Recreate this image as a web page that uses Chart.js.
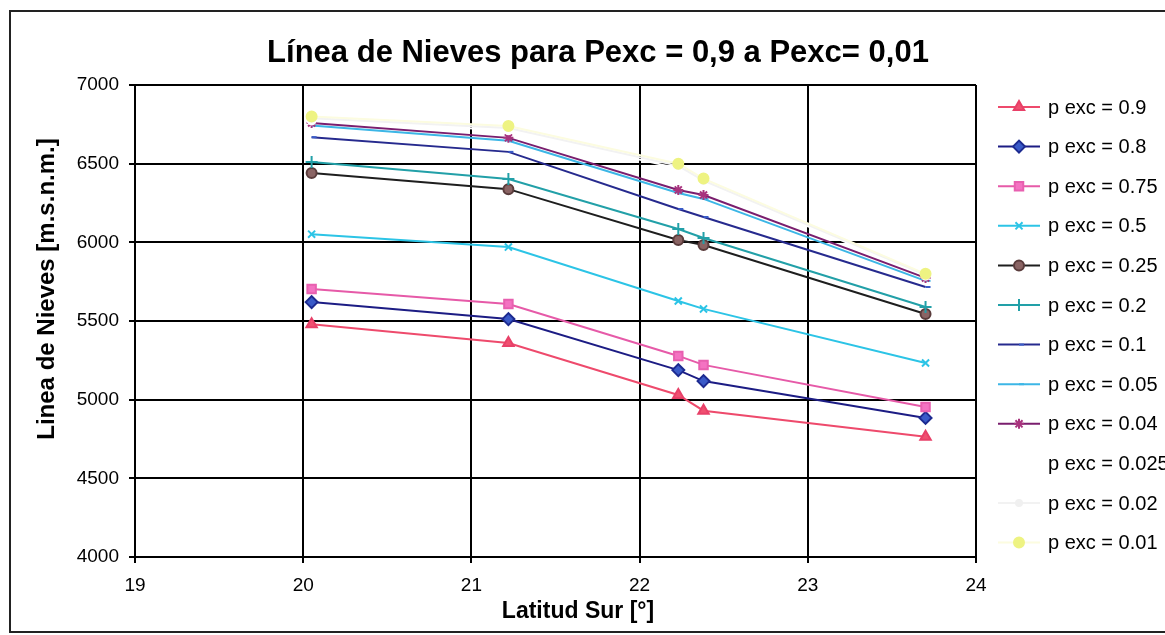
<!DOCTYPE html>
<html>
<head>
<meta charset="utf-8">
<script src="https://cdn.jsdelivr.net/npm/chart.js@4/dist/chart.umd.min.js"></script>
<style>
  html, body { margin: 0; padding: 0; background: #ffffff; }
  #wrap { width: 1165px; height: 635px; position: relative; }
</style>
</head>
<body>
<div id="wrap"><canvas id="c" width="1165" height="635"></canvas></div>
<script>
// Latitude of each station (degrees south)
const latitudes = [20.05, 21.22, 22.23, 22.38, 23.70];

// Snow line elevation [m.s.n.m.] for each exceedance probability
const pexc090 = [5480, 5360, 5030, 4930, 4765];
const pexc080 = [5620, 5512, 5188, 5118, 4884];
const pexc075 = [5704, 5608, 5278, 5221, 4954];
const pexc050 = [6052, 5970, 5627, 5577, 5233];
const pexc025 = [6440, 6338, 6015, 5983, 5545];
const pexc020 = [6511, 6403, 6085, 6028, 5589];
const pexc010 = [6668, 6575, 6212, 6161, 5716];
const pexc005 = [6742, 6645, 6314, 6276, 5755];
const pexc004 = [6759, 6664, 6333, 6301, 5774];
const pexc0025 = [6775, 6712, 6470, 6380, 5788];
const pexc002 = [6788, 6726, 6486, 6392, 5794];
const pexc001 = [6800, 6740, 6500, 6405, 5800];

const seriesLabels = ['p exc = 0.9', 'p exc = 0.8', 'p exc = 0.75', 'p exc = 0.5', 'p exc = 0.25',
  'p exc = 0.2', 'p exc = 0.1', 'p exc = 0.05', 'p exc = 0.04', 'p exc = 0.025', 'p exc = 0.02', 'p exc = 0.01'];
const seriesValues = [pexc090, pexc080, pexc075, pexc050, pexc025, pexc020, pexc010, pexc005, pexc004, pexc0025, pexc002, pexc001];

const xTicks = [19, 20, 21, 22, 23, 24];
const yTicks = [4000, 4500, 5000, 5500, 6000, 6500, 7000];

// Line / marker styling per series
const styles = [
  { line: '#ee4a6c', fill: '#f05070', edge: '#e84068', point: 'triangle', r: 6 },
  { line: '#1c1c84', fill: '#3a5ac8', edge: '#1c2a90', point: 'rectRot', r: 6 },
  { line: '#e65aa8', fill: '#f472c2', edge: '#e860b0', point: 'rect', r: 6 },
  { line: '#2cc4e6', fill: '#2cc4e6', edge: '#2cc4e6', point: 'crossRot', r: 5 },
  { line: '#1e1e1e', fill: '#8a6464', edge: '#5a3c3c', point: 'circle', r: 5 },
  { line: '#22a0a8', fill: '#22a0a8', edge: '#22a0a8', point: 'cross', r: 6 },
  { line: '#262a8e', fill: '#3a5cc8', edge: '#3a5cc8', point: 'dash', r: 5 },
  { line: '#3cb6e6', fill: '#3cb6e6', edge: '#3cb6e6', point: 'dash', r: 5 },
  { line: '#7a1e6e', fill: '#a8347e', edge: '#a8347e', point: 'star', r: 5 },
  { line: '#ffffff', fill: '#ffffff', edge: '#ffffff', point: 'circle', r: 4 },
  { line: '#f2f2f2', fill: '#f0f0f0', edge: '#f0f0f0', point: 'circle', r: 3 },
  { line: '#fcfce0', fill: '#eef382', edge: '#eef382', point: 'circle', r: 5 }
];

const datasets = seriesValues.map((vals, i) => ({
  label: seriesLabels[i],
  data: latitudes.map((lat, k) => ({ x: lat, y: vals[k] })),
  borderColor: styles[i].line,
  borderWidth: 2,
  backgroundColor: styles[i].fill,
  pointStyle: styles[i].point,
  pointRadius: styles[i].r,
  pointBackgroundColor: styles[i].fill,
  pointBorderColor: styles[i].edge,
  pointBorderWidth: 2,
  showLine: true,
  tension: 0,
  order: seriesValues.length - i
}));

const FONT = "'Liberation Sans', Arial, sans-serif";

// Frame, titles and legend drawn around the plot
const decorations = {
  id: 'decorations',
  beforeDraw(chart) {
    const ctx = chart.ctx;
    ctx.save();
    ctx.fillStyle = '#ffffff';
    ctx.fillRect(0, 0, chart.width, chart.height);
    ctx.strokeStyle = '#222222';
    ctx.lineWidth = 2;
    ctx.strokeRect(10, 11, 1170, 621);
    ctx.restore();
  },
  afterDraw(chart) {
    const ctx = chart.ctx;
    ctx.save();
    ctx.fillStyle = '#000000';
    ctx.textAlign = 'center';
    ctx.textBaseline = 'middle';
    ctx.font = "bold 31px " + FONT;
    ctx.fillText('Línea de Nieves para Pexc = 0,9 a Pexc= 0,01', 598, 53);

    ctx.font = "bold 23px " + FONT;
    ctx.fillText('Latitud Sur [°]', 578, 612);

    ctx.save();
    ctx.translate(47, 289);
    ctx.rotate(-Math.PI / 2);
    ctx.font = "bold 24px " + FONT;
    ctx.fillText('Linea de Nieves [m.s.n.m.]', 0, 0);
    ctx.restore();

    const x0 = 998, x1 = 1040, top = 107, step = 39.6;
    chart.data.datasets.forEach((ds, i) => {
      const y = top + i * step;
      ctx.strokeStyle = ds.borderColor;
      ctx.lineWidth = 2;
      ctx.beginPath();
      ctx.moveTo(x0, y);
      ctx.lineTo(x1, y);
      ctx.stroke();
      ctx.fillStyle = ds.pointBackgroundColor;
      ctx.strokeStyle = ds.pointBorderColor;
      ctx.lineWidth = 2;
      Chart.helpers.drawPoint(ctx, { pointStyle: ds.pointStyle, radius: ds.pointRadius, borderWidth: 2, rotation: 0 }, (x0 + x1) / 2, y);
      ctx.fillStyle = '#000000';
      ctx.font = "20px " + FONT;
      ctx.textAlign = 'left';
      ctx.textBaseline = 'middle';
      ctx.fillText(ds.label, 1048, y + 1);
    });
    ctx.restore();
  }
};

new Chart(document.getElementById('c'), {
  type: 'line',
  data: { datasets },
  options: {
    responsive: false,
    animation: false,
    devicePixelRatio: 1,
    layout: { padding: { top: 85, right: 189, bottom: 0, left: 0 } },
    plugins: { legend: { display: false }, title: { display: false }, tooltip: { enabled: false } },
    scales: {
      x: {
        type: 'linear',
        min: 19, max: 24,
        afterFit: s => { s.height = 78; },
        afterBuildTicks: s => { s.ticks = xTicks.map(v => ({ value: v })); },
        grid: { color: '#000000', lineWidth: 2, tickLength: 6, tickColor: '#000000' },
        border: { color: '#000000', width: 2 },
        ticks: { color: '#000000', font: { family: FONT, size: 19 }, padding: 11,
                 callback: v => String(v) }
      },
      y: {
        type: 'linear',
        min: 4000, max: 7000,
        afterFit: s => { s.width = 135; },
        afterBuildTicks: s => { s.ticks = yTicks.map(v => ({ value: v })); },
        grid: { color: '#000000', lineWidth: 2, tickLength: 6, tickColor: '#000000' },
        border: { color: '#000000', width: 2 },
        ticks: { color: '#000000', font: { family: FONT, size: 19 }, padding: 10,
                 callback: v => String(v) }
      }
    }
  },
  plugins: [decorations]
});
</script>
</body>
</html>
